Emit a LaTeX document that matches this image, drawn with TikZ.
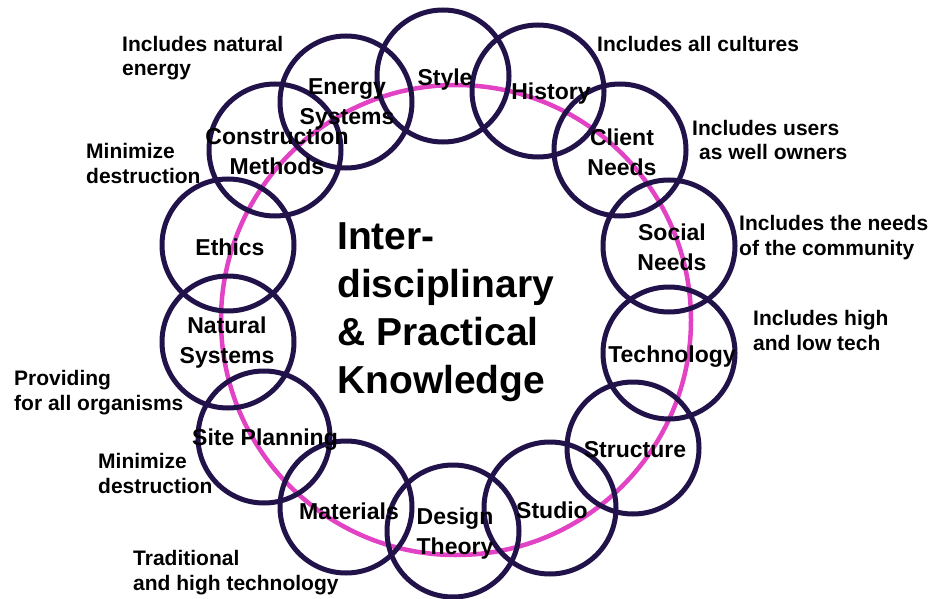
\documentclass[tikz,border=0pt]{standalone}
\usepackage{fontspec}
\setmainfont{Liberation Sans}
\definecolor{ringcol}{RGB}{34,18,74}
\definecolor{hoopcol}{RGB}{226,66,196}
\begin{document}
\begin{tikzpicture}[x=1pt,y=-1pt,
  ring/.style={draw=ringcol, line width=5pt, circle, minimum size=132pt, inner sep=0pt},
  topic/.style={font=\fontsize{23}{30}\selectfont\bfseries, align=center, text=black, inner sep=0pt},
  note/.style={font=\fontsize{21}{24.5}\selectfont\bfseries, align=left, anchor=base west, inner sep=0pt},
  headline/.style={font=\fontsize{39}{48}\selectfont\bfseries, align=left, anchor=base west, inner sep=0pt}]
\fill[white] (0,0) rectangle (940,599);
\useasboundingbox (0,0) rectangle (940,599);

% the large ring joining all topics
\node[draw=hoopcol, line width=4.5pt, circle, minimum size=470pt, inner sep=0pt] (hoop) at (456,320) {};

% topic circles
\node[ring] (cstyle)   at (443,76)  {};
\node[ring] (chist)    at (538,91)  {};
\node[ring] (cclient)  at (620,150) {};
\node[ring] (csocial)  at (669,246) {};
\node[ring] (ctech)    at (669,353) {};
\node[ring] (cstruct)  at (633,448) {};
\node[ring] (cstudio)  at (550,508) {};
\node[ring] (cdesign)  at (453,531) {};
\node[ring] (cmat)     at (346,507) {};
\node[ring] (csite)    at (264,437) {};
\node[ring] (cnat)     at (228,342) {};
\node[ring] (cethics)  at (228,245) {};
\node[ring] (cconst)   at (275,150) {};
\node[ring] (cenergy)  at (346,102) {};

% topic labels
\node[topic] (tstyle)  at (445,80)  {Style};
\node[topic] (thist)   at (551,94)  {History};
\node[topic] (tclient) at (622,152) {Client\\Needs};
\node[topic] (tsocial) at (672,247) {Social\\Needs};
\node[topic] (ttech)   at (672,357) {Technology};
\node[topic] (tstruct) at (635,450) {Structure};
\node[topic] (tstudio) at (552,510) {Studio};
\node[topic] (tdesign) at (455,534) {Design\\Theory};
\node[topic] (tmat)    at (349,511) {Materials};
\node[topic] (tsite)   at (265,440) {Site Planning};
\node[topic] (tnat)    at (227,343) {Natural\\Systems};
\node[topic] (tethics) at (230,247) {Ethics};
\node[topic] (tconst)  at (277,151) {Construction\\Methods};
\node[topic] (tenergy) at (347,104) {Energy\\Systems};

% central heading (anchored on the baseline of its last line)
\node[headline] (head) at (337,393) {Inter-\\disciplinary\\\& Practical\\Knowledge};

% side notes (anchored on the baseline of their last line)
\node[note] (nenergy) at (122,76)  {Includes natural\\energy};
\node[note] (nconst)  at (86,183)  {Minimize\\destruction};
\node[note] (nhist)   at (597,52)  {Includes all cultures};
\node[note] (nclient) at (692,160) {Includes users\\\hspace*{7pt}as well owners};
\node[note] (nsocial) at (739,255) {Includes the needs\\of the community};
\node[note] (ntech)   at (753,350) {Includes high\\and low tech};
\node[note] (nnat)    at (14,410)  {Providing\\for all organisms};
\node[note] (nsite)   at (98,493)  {Minimize\\destruction};
\node[note] (nmat)    at (133,590) {Traditional\\and high technology};
\end{tikzpicture}
\end{document}
